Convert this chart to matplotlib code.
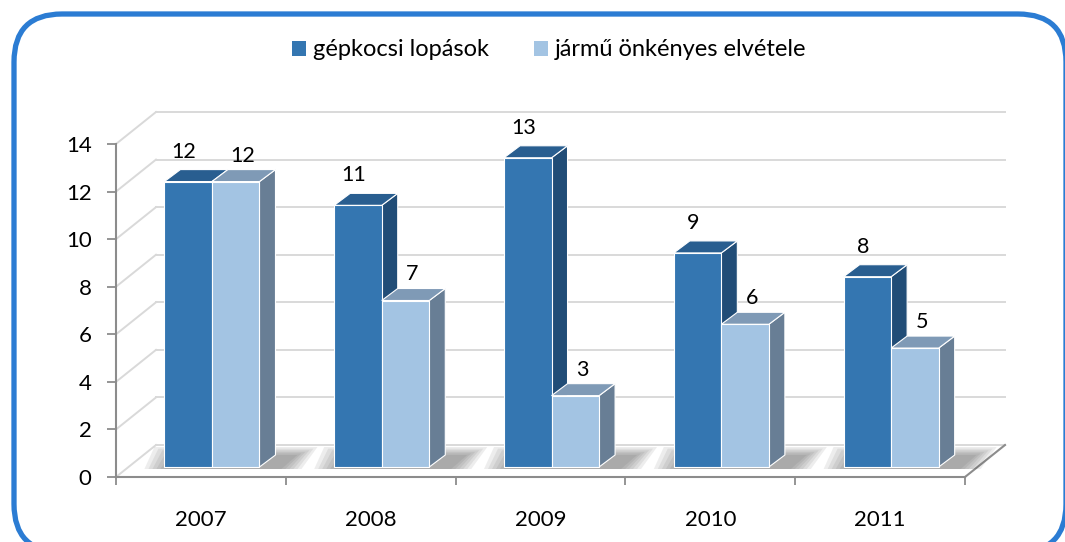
import numpy as np
import matplotlib.pyplot as plt
from matplotlib.patches import Polygon, Patch, FancyBboxPatch

years = ['2007', '2008', '2009', '2010', '2011']
lopasok = [12, 11, 13, 9, 8]
elvetel = [12, 7, 3, 6, 5]
series_names = ['gépkocsi lopások', 'jármű önkényes elvétele']
yticks = [0, 2, 4, 6, 8, 10, 12, 14]

plt.rcParams['font.family'] = ['Lato', 'DejaVu Sans']

W, H = 1065, 542
fig = plt.figure(figsize=(W / 100, H / 100), dpi=100)
ax = fig.add_axes([116 / W, (H - 477) / H, 849 / W, (477 - 144) / H])
ax.set_xlim(-0.5, 4.5)
ax.set_ylim(0, 14)

# pixel -> data units
ux = 5 / 849
uy = 14 / 333
wall_dx, wall_dy = 40 * ux, 32 * uy
base_y = 10 * uy
dep_dx, dep_dy = 16 * ux, 12 * uy

grid_c = '#D9D9D9'
axis_c = '#8C8C8C'

# back wall / side wall gridlines
for v in yticks:
    ax.plot([-0.5 + wall_dx, 4.5 + wall_dx], [v + wall_dy, v + wall_dy],
            color=grid_c, lw=1.4, clip_on=False, zorder=1)
    ax.plot([-0.5, -0.5 + wall_dx], [v, v + wall_dy],
            color=grid_c, lw=1.4, clip_on=False, zorder=1)
ax.plot([4.5, 4.5 + wall_dx], [0, wall_dy], color=axis_c, lw=1.5,
        clip_on=False, zorder=1)

bw = 0.28
shift = 0.065
styles = [
    ('#3476B1', '#295E90', '#214D77'),
    ('#A3C4E3', '#7F9AB6', '#687E95'),
]
label_dx = [-4, 7]
label_dy = [30, 26]

x = np.arange(len(years))


def draw_bar(x0, v, front, top, side, z):
    y0 = base_y
    y1 = v + base_y
    ax.add_patch(Polygon([(x0 + bw, y0), (x0 + bw + dep_dx, y0 + dep_dy),
                          (x0 + bw + dep_dx, y1 + dep_dy), (x0 + bw, y1)],
                         closed=True, fc=side, ec='white', lw=0.8, zorder=z, clip_on=False))
    ax.add_patch(Polygon([(x0, y1), (x0 + bw, y1), (x0 + bw + dep_dx, y1 + dep_dy),
                          (x0 + dep_dx, y1 + dep_dy)],
                         closed=True, fc=top, ec='white', lw=0.8, zorder=z, clip_on=False))
    ax.bar(x0, v, width=bw, bottom=y0, align='edge', color=front,
           edgecolor='white', linewidth=0.8, zorder=z, clip_on=False)


for i in range(len(years)):
    left = x[i] + shift - bw
    right = x[i] + shift + bw + dep_dx
    # soft floor shadow
    for k in range(6):
        e = k * 4
        ax.add_patch(Polygon([(left - e * ux, base_y - 2 * uy),
                              (right + (6 + e) * ux, base_y - 2 * uy),
                              (right + (22 + e) * ux, base_y + (12 + e * 0.4) * uy),
                              (left + (10 - e) * ux, base_y + (12 + e * 0.4) * uy)],
                             closed=True, fc='#404040', ec='none', alpha=0.09,
                             zorder=2, clip_on=False))
    for j, vals in enumerate([lopasok, elvetel]):
        x0 = x[i] + shift - bw + j * bw
        f, t, s = styles[j]
        draw_bar(x0, vals[i], f, t, s, 3 + j)
        ax.text(x0 + bw / 2 + label_dx[j] * ux, vals[i] + base_y + label_dy[j] * uy,
                str(vals[i]), ha='center', va='center', fontsize=15.5,
                color='black', zorder=6)

for s in ['top', 'right']:
    ax.spines[s].set_visible(False)
for s in ['left', 'bottom']:
    ax.spines[s].set_color(axis_c)
    ax.spines[s].set_linewidth(1.5)
    ax.spines[s].set_zorder(7)

ax.set_yticks(yticks)
ax.set_yticklabels([str(v) for v in yticks])
ax.tick_params(axis='y', length=6.5, width=1.3, color=axis_c, pad=11, labelsize=16)
ax.set_xticks(x)
ax.set_xticklabels(years)
ax.tick_params(axis='x', which='major', length=0, pad=24, labelsize=16)
ax.set_xticks(np.arange(-0.5, 5, 1), minor=True)
ax.tick_params(axis='x', which='minor', length=6, width=1.3, color=axis_c)
ax.patch.set_visible(False)

handles = [Patch(fc=styles[0][0]), Patch(fc=styles[1][0])]
fig.legend(handles, series_names, loc='center', bbox_to_anchor=(549 / W, 1 - 50 / H),
           ncol=2, frameon=False, fontsize=17, handlelength=0.6, handleheight=0.6,
           handletextpad=0.3, columnspacing=1.9)

fig.patches.append(FancyBboxPatch((14 / W, -10 / H), (1052 / W), (H - 4) / H,
                                  boxstyle='round,pad=0,rounding_size=0.045',
                                  transform=fig.transFigure, fc='none', ec='#2B7CD3',
                                  lw=3.8, mutation_aspect=W / H, zorder=10))

fig.savefig('out.png', dpi=100)
